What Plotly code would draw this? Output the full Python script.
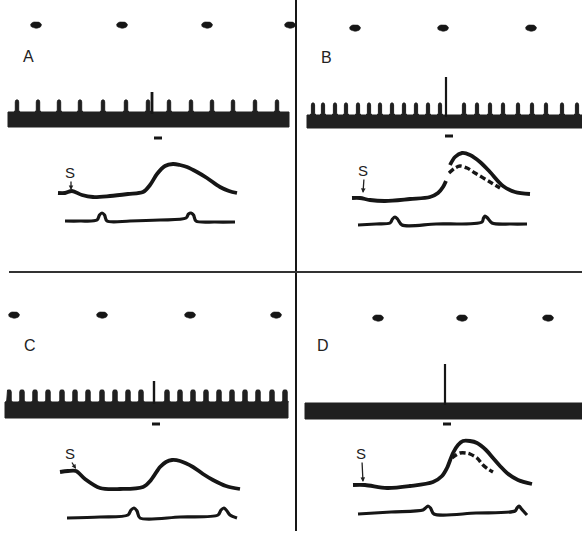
import numpy as np
import plotly.graph_objects as go

# Canvas and quadrant split
W, H = 582, 537
XDIV, YDIV = 296, 272
INK = "#161616"
BAND = "#202020"

# ---------------- Panel A ----------------
A_marks_t = [36, 122, 207, 290]
A_marks_y = 25
A_band = (8, 289, 112, 127)                 # x0, x1, top, bottom
A_pulses_t = [17, 38, 59, 80, 103, 126, 148, 169, 191, 212, 233, 255, 277]
A_pulse_top = 100
A_spike_t, A_spike_top = 152, 92
A_bar = (158, 138)
A_slow_t = [58, 65, 72, 82, 93, 110, 128, 143, 150, 157, 165, 173, 180, 187, 197, 207, 220, 229, 237]
A_slow_v = [193, 193, 191, 195, 197, 196, 194, 192, 185, 174, 166, 164, 165, 167, 172, 178, 187, 191, 193]
A_ref_t = [65, 80, 97, 99.5, 102, 104.5, 107, 130, 160, 186, 188.5, 191, 193.5, 196, 215, 235]
A_ref_v = [221, 221, 220, 215, 213, 215, 221, 221, 220, 218, 214, 213, 215, 221, 222, 222]
A_S = (70, 172, 71, 190)                    # text x, text y, arrow tip x, tip y

# ---------------- Panel B ----------------
B_marks_t = [59, 147, 235]
B_marks_y = 28
B_band = (11, 286, 115, 128)
B_pulses_t = [17, 27, 39, 50, 62, 73, 84, 96, 108, 120, 132, 144,
              168, 181, 194, 207, 222, 236, 250, 266, 281]
B_pulse_top = 103
B_spike_t, B_spike_top = 150, 77
B_bar = (153, 136)
B_slow1_t = [56, 64, 74, 89, 114, 134, 142, 147, 150]
B_slow1_v = [198, 198, 200, 201, 199, 197, 193, 187, 181]
B_slow2_t = [154, 159, 166, 174, 184, 194, 207, 219, 234]
B_slow2_v = [165, 157, 153, 155, 162, 172, 186, 192, 194]
B_dash_t = [153, 159, 164, 171, 179, 194, 204]
B_dash_v = [173, 168, 166, 168, 173, 182, 188]
B_ref_t = [62, 80, 94, 96.5, 99, 101.5, 106, 140, 186, 187.5, 189, 191.5, 196, 215, 231]
B_ref_v = [225, 224, 223, 219, 217, 219, 225, 224, 222, 218, 216, 218, 223, 224, 224]
B_S = (67, 170, 67, 193)

# ---------------- Panel C ----------------
C_marks_t = [14, 102, 190, 276]
C_marks_y = 43
C_band = (5, 288, 130, 146)
C_pulses_t = [9, 22, 35, 48, 62, 75, 88, 102, 115, 128, 141,
              167, 180, 193, 206, 219, 232, 245, 258, 272, 285]
C_pulse_top = 118
C_spike_t, C_spike_top = 154, 109
C_bar = (156, 152)
C_slow_t = [60, 68, 76, 85, 100, 120, 143, 151, 160, 166, 172, 180, 193, 203, 213, 226, 240]
C_slow_v = [200, 199, 199, 207, 216, 217, 215, 208, 195, 190, 188, 189, 195, 202, 208, 214, 217]
C_ref_t = [67, 100, 128, 131, 134, 137, 140, 180, 218, 221, 224, 227, 230, 237]
C_ref_v = [246, 245, 243, 238, 236, 239, 246, 245, 243, 238, 236, 239, 243, 246]
C_S = (70, 181, 76, 197)

# ---------------- Panel D ----------------
D_marks_t = [82, 166, 252]
D_marks_y = 46
D_band = (9, 286, 131, 147)
D_pulses_t = []
D_pulse_top = 131
D_spike_t, D_spike_top = 149, 92
D_bar = (151, 152)
D_slow_t = [57, 69, 91, 114, 137, 146, 151, 157, 162, 167, 174, 181, 190, 197, 204, 211, 222, 236]
D_slow_v = [213, 213, 216, 214, 210, 204, 196, 181, 173, 169, 169, 171, 178, 186, 194, 201, 208, 212]
D_dash_t = [156, 160, 164, 170, 174, 181, 187, 192, 197]
D_dash_v = [186, 183, 181, 181, 182, 186, 193, 197, 200]
D_ref_t = [62, 95, 127, 129.5, 132, 134.5, 138, 180, 219, 221, 223, 225.5, 231]
D_ref_v = [242, 240, 238, 236, 234, 236, 242, 241, 239, 236, 234, 237, 243]
D_S = (65, 181, 67, 210)

LABELS = ["A", "B", "C", "D"]
LABEL_POS = [(28, 56), (30, 57), (30, 73), (27, 73)]

fig = go.Figure()


def add_line(ax, x, y, width=3.8, dash=None, shape="spline"):
    fig.add_trace(go.Scatter(
        x=x, y=y, xaxis=ax[0], yaxis=ax[1], mode="lines",
        line=dict(color=INK, width=width, shape=shape, smoothing=0.9,
                  dash=dash),
        hoverinfo="skip"))


def add_marks(ax, ts, y0, rx=5.5, ry=3.3):
    ang = np.linspace(0, 2 * np.pi, 24)
    xs, ys = [], []
    for t in ts:
        xs += list(t + rx * np.cos(ang)) + [None]
        ys += list(y0 + ry * np.sin(ang)) + [None]
    fig.add_trace(go.Scatter(x=xs, y=ys, xaxis=ax[0], yaxis=ax[1],
                             mode="lines", fill="toself", fillcolor=INK,
                             line=dict(color=INK, width=0.5),
                             hoverinfo="skip"))


def add_band(ax, band, pulses, ptop, half):
    x0, x1, top, bot = band
    xs, ys = [x0, x0], [bot, top]
    for t in pulses:
        # each pulse: a short stem with a rounded cap, slightly flared at its foot
        xs += [t - half - 1.2, t - half, t - half, t - half + 0.7,
               t + half - 0.7, t + half, t + half, t + half + 1.2]
        ys += [top, top - 1.8, ptop + 1.8, ptop, ptop, ptop + 1.8,
               top - 1.8, top]
    xs += [x1, x1, x0]
    ys += [top, bot, bot]
    fig.add_trace(go.Scatter(x=xs, y=ys, xaxis=ax[0], yaxis=ax[1],
                             mode="lines", fill="toself", fillcolor=BAND,
                             line=dict(color=BAND, width=1),
                             hoverinfo="skip"))


axes = [("x", "y"), ("x2", "y2"), ("x3", "y3"), ("x4", "y4")]
specs = [
    (A_marks_t, A_marks_y, A_band, A_pulses_t, A_pulse_top, 1.7, A_spike_t, A_spike_top, A_bar, A_S, 2.8),
    (B_marks_t, B_marks_y, B_band, B_pulses_t, B_pulse_top, 1.6, B_spike_t, B_spike_top, B_bar, B_S, 2.2),
    (C_marks_t, C_marks_y, C_band, C_pulses_t, C_pulse_top, 2.2, C_spike_t, C_spike_top, C_bar, C_S, 2.4),
    (D_marks_t, D_marks_y, D_band, D_pulses_t, D_pulse_top, 1.5, D_spike_t, D_spike_top, D_bar, D_S, 2.2),
]

annotations = []
for i, (ax, sp) in enumerate(zip(axes, specs)):
    marks_t, marks_y, band, pulses, ptop, half, spk_t, spk_top, bar, s_lab, spk_w = sp
    add_marks(ax, marks_t, marks_y)
    add_band(ax, band, pulses, ptop, half)
    # stimulus artefact spike rising out of the pulse band
    add_line(ax, [spk_t, spk_t], [band[2] + 2, spk_top], width=spk_w, shape="linear")
    # short bar under the band
    add_line(ax, [bar[0] - 4, bar[0] + 4], [bar[1], bar[1]], width=3, shape="linear")
    lx, ly = LABEL_POS[i]
    annotations.append(dict(x=lx, y=ly, xref=ax[0], yref=ax[1], text=LABELS[i],
                            showarrow=False, font=dict(size=16, color="#222",
                            family="Liberation Sans")))
    tx, ty, px, py = s_lab
    annotations.append(dict(x=tx, y=ty, xref=ax[0], yref=ax[1], text="S",
                            showarrow=False, font=dict(size=15, color="#222",
                            family="Liberation Sans")))
    annotations.append(dict(x=px, y=py, xref=ax[0], yref=ax[1], text="",
                            showarrow=True, ax=tx + 1 - px, ay=-(py - ty - 8),
                            arrowhead=2, arrowsize=0.7, arrowwidth=1.3,
                            arrowcolor="#222"))

# slow potentials and reference traces
add_line(axes[0], A_slow_t, A_slow_v)
add_line(axes[0], A_ref_t, A_ref_v, width=3.2)
add_line(axes[1], B_slow1_t, B_slow1_v)
add_line(axes[1], B_slow2_t, B_slow2_v)
add_line(axes[1], B_dash_t, B_dash_v, width=3.4, dash="6px,3px")
add_line(axes[1], B_ref_t, B_ref_v, width=3.2)
add_line(axes[2], C_slow_t, C_slow_v)
add_line(axes[2], C_ref_t, C_ref_v, width=3.2)
add_line(axes[3], D_slow_t, D_slow_v)
add_line(axes[3], D_dash_t, D_dash_v, width=3.4, dash="6px,3px")
add_line(axes[3], D_ref_t, D_ref_v, width=3.2)

fx = XDIV / W
fy = 1 - YDIV / H
hidden = dict(visible=False, fixedrange=True)
layout = dict(
    width=W, height=H, margin=dict(l=0, r=0, t=0, b=0),
    paper_bgcolor="white", plot_bgcolor="white", showlegend=False,
    xaxis=dict(domain=[0, fx], range=[0, XDIV], **hidden),
    yaxis=dict(domain=[fy, 1], range=[YDIV, 0], **hidden),
    xaxis2=dict(domain=[fx, 1], range=[0, W - XDIV], **hidden),
    yaxis2=dict(domain=[fy, 1], range=[YDIV, 0], **hidden),
    xaxis3=dict(domain=[0, fx], range=[0, XDIV], **hidden),
    yaxis3=dict(domain=[0, fy], range=[H - YDIV, 0], **hidden),
    xaxis4=dict(domain=[fx, 1], range=[0, W - XDIV], **hidden),
    yaxis4=dict(domain=[0, fy], range=[H - YDIV, 0], **hidden),
    annotations=annotations,
    shapes=[
        dict(type="line", xref="paper", yref="paper", x0=fx, x1=fx,
             y0=1, y1=1 - 531 / H, line=dict(color=INK, width=2)),
        dict(type="line", xref="paper", yref="paper", x0=9 / W, x1=1,
             y0=fy, y1=fy, line=dict(color="#333", width=2)),
    ],
)
fig.update_layout(**layout)
fig.write_html("out.html")
